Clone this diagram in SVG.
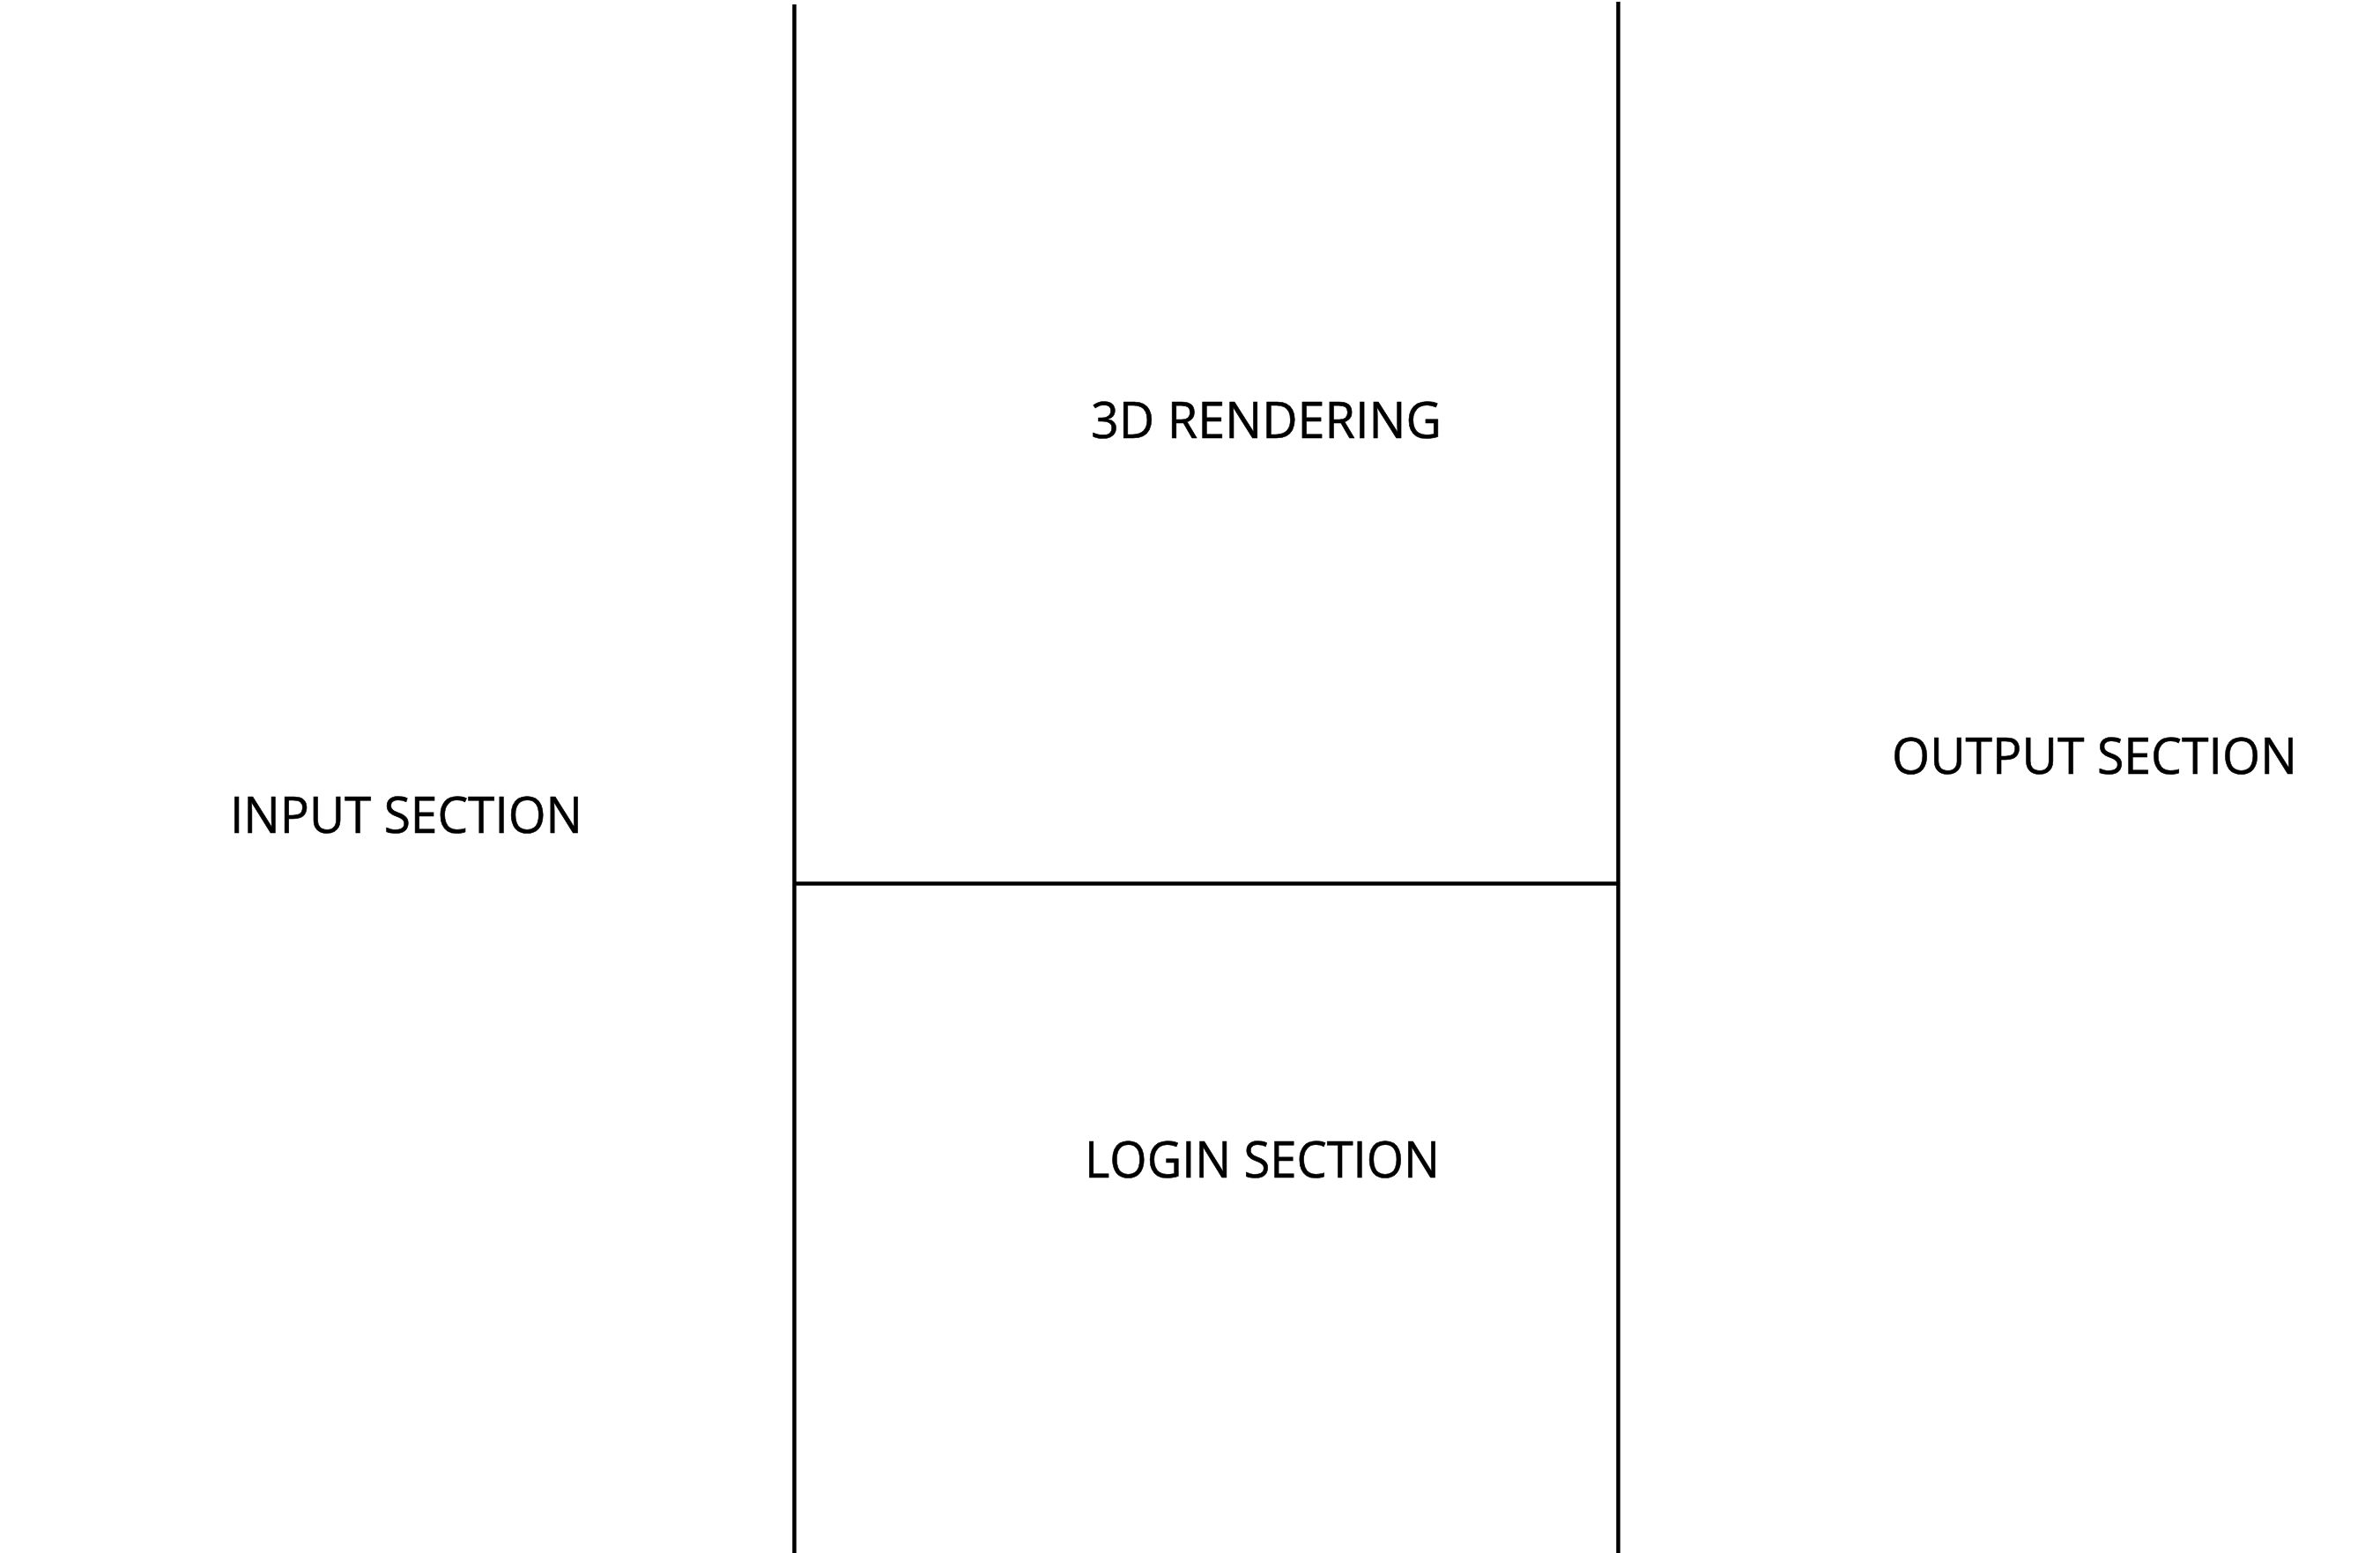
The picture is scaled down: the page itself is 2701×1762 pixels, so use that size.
<svg xmlns="http://www.w3.org/2000/svg" width="2701" height="1762" viewBox="0 0 2701 1762">
<style>
.ln{stroke:#000;stroke-width:4.5;fill:none}
.t{font-family:"Open Sans","Liberation Sans",sans-serif;font-size:57px;fill:#000;stroke:#000;stroke-width:0.6}
</style>
<rect width="2701" height="1762" fill="#fff"/>
<g id="connectors">
<line class="ln" x1="901.5" y1="5" x2="901.5" y2="1762"/>
<line class="ln" x1="1836.5" y1="2" x2="1836.5" y2="1762"/>
<line class="ln" x1="901.5" y1="1002.5" x2="1836.5" y2="1002.5"/>
</g>
<g id="input"><text class="t" x="261" y="944.5" textLength="400" lengthAdjust="spacingAndGlyphs">INPUT SECTION</text></g>
<g id="rendering"><text class="t" x="1238" y="496.5" textLength="398" lengthAdjust="spacingAndGlyphs">3D RENDERING</text></g>
<g id="login"><text class="t" x="1231" y="1336" textLength="403" lengthAdjust="spacingAndGlyphs">LOGIN SECTION</text></g>
<g id="output"><text class="t" x="2147" y="878" textLength="460" lengthAdjust="spacingAndGlyphs">OUTPUT SECTION</text></g>
</svg>
